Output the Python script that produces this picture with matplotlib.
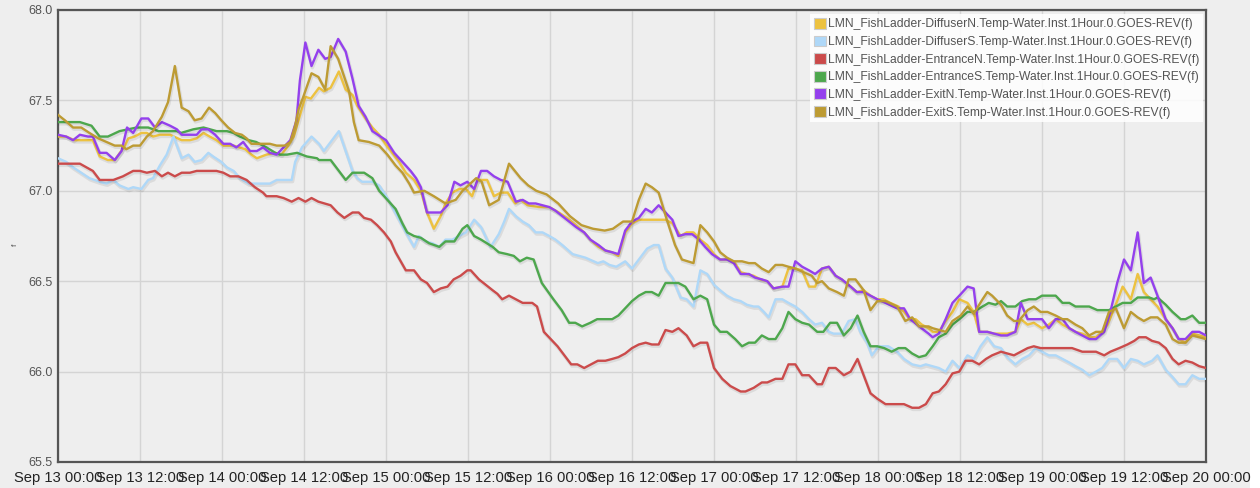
import matplotlib
matplotlib.use("Agg")
import matplotlib.pyplot as plt
import matplotlib.dates as mdates
import matplotlib.patheffects as pe
from matplotlib.patches import Patch, Rectangle
import pandas as pd

start = "2023-09-13 00:00"
end_hours = 168

labels = [
    "LMN_FishLadder-DiffuserN.Temp-Water.Inst.1Hour.0.GOES-REV(f)",
    "LMN_FishLadder-DiffuserS.Temp-Water.Inst.1Hour.0.GOES-REV(f)",
    "LMN_FishLadder-EntranceN.Temp-Water.Inst.1Hour.0.GOES-REV(f)",
    "LMN_FishLadder-EntranceS.Temp-Water.Inst.1Hour.0.GOES-REV(f)",
    "LMN_FishLadder-ExitN.Temp-Water.Inst.1Hour.0.GOES-REV(f)",
    "LMN_FishLadder-ExitS.Temp-Water.Inst.1Hour.0.GOES-REV(f)",
]
colors = ["#edc240", "#afd8f8", "#cb4b4b", "#4da74d", "#9440ed", "#bd9b33"]

# hours since Sep 13 00:00 and temperatures (f)
diffN_h = [0, 1.2, 2.4, 4.2, 5.1, 6.1, 7.3, 8.3, 9.8, 10.3, 11.2, 12.2, 13, 13.9, 14.9, 16.4, 18.1, 19.3, 20.3, 21.3,
           22.2, 23.2, 24.2, 25.7, 27.4, 28.3, 29.1, 30.5, 31.8, 32.7, 33.7, 34.5, 35.2, 36.2, 37, 38.2, 38.9, 39.9, 41.1, 42.1,
           43.1, 43.8, 45, 46, 47, 47.9, 48.9, 49.9, 50.9, 52.1, 53.1, 54, 55, 56, 56.7, 57.7, 58.7, 59.7, 60.6, 61.4,
           62.8, 63.8, 64.8, 65.8, 66.9, 67.7, 68.7, 70.4, 71.9, 73.3, 74.5, 75.8, 77, 77.9, 79.1, 80.1, 81.1, 82, 83, 84,
           85, 88.9, 89.9, 91.1, 92, 93, 94, 95, 96, 96.9, 97.9, 98.9, 99.9, 100.8, 101.8, 102.8, 103.8, 104.7, 106, 106.9,
           107.9, 108.9, 109.9, 110.8, 111.8, 112.8, 113.8, 114.7, 116, 116.9, 117.9, 118.9, 119.9, 120.8, 121.8, 123, 123.8, 124.7, 125.5, 126.4,
           127.4, 128, 128.9, 129.9, 130.9, 131.9, 133.1, 134, 134.8, 136, 137, 138.9, 140.1, 140.9, 141.9, 142.8, 144, 145, 146, 147,
           148, 148.9, 149.9, 150.9, 151.9, 152.8, 153.6, 154.8, 155.8, 157, 158, 158.9, 159.9, 160.9, 162.1, 163.1, 164, 165, 166, 167, 168]
diffN_v = [67.30, 67.30, 67.28, 67.28, 67.28, 67.19, 67.17, 67.17, 67.25, 67.29, 67.30, 67.32, 67.32, 67.30, 67.31, 67.31, 67.28, 67.28, 67.29, 67.32,
           67.30, 67.28, 67.25, 67.25, 67.23, 67.20, 67.18, 67.20, 67.21, 67.20, 67.25, 67.30, 67.39, 67.52, 67.51, 67.57, 67.55, 67.57, 67.66, 67.56,
           67.53, 67.47, 67.40, 67.35, 67.31, 67.26, 67.21, 67.16, 67.10, 67.06, 67.00, 66.88, 66.79, 66.86, 66.93, 66.99, 67.01, 67.01, 66.97, 67.06,
           67.06, 66.97, 66.99, 66.99, 66.93, 66.95, 66.92, 66.91, 66.91, 66.88, 66.85, 66.81, 66.77, 66.73, 66.69, 66.67, 66.66, 66.64, 66.77, 66.82,
           66.84, 66.84, 66.82, 66.75, 66.77, 66.77, 66.73, 66.70, 66.65, 66.62, 66.62, 66.61, 66.55, 66.54, 66.53, 66.51, 66.50, 66.46, 66.47, 66.57,
           66.57, 66.56, 66.47, 66.47, 66.57, 66.58, 66.53, 66.51, 66.47, 66.44, 66.45, 66.42, 66.40, 66.40, 66.38, 66.36, 66.33, 66.29, 66.29, 66.26,
           66.24, 66.22, 66.22, 66.28, 66.33, 66.40, 66.38, 66.33, 66.22, 66.22, 66.21, 66.21, 66.22, 66.29, 66.26, 66.27, 66.24, 66.26, 66.29, 66.26,
           66.24, 66.22, 66.21, 66.19, 66.19, 66.22, 66.26, 66.37, 66.47, 66.40, 66.54, 66.44, 66.40, 66.36, 66.29, 66.24, 66.18, 66.16, 66.21, 66.20, 66.19]

diffS_h = [0, 1.2, 2.2, 3.4, 4.6, 6.1, 7.1, 8.1, 9, 10.3, 11, 12.2, 13.2, 13.9, 14.9, 15.9, 16.9, 18.1, 19.1, 20,
           21, 22, 22.7, 23.9, 24.7, 25.7, 26.6, 27.9, 31, 32, 34.2, 34.7, 35.7, 37.1, 38.2, 38.9, 40.1, 41.1, 42.1, 43.1,
           43.8, 44.5, 46, 47, 48.2, 49.2, 50.9, 52.1, 52.8, 53.8, 54.8, 55.8, 56.7, 57.7, 58.7, 59.7, 60.9, 61.9, 63.3, 64.5,
           65.3, 66, 67, 68, 68.9, 69.9, 70.9, 71.9, 72.8, 73.8, 75.3, 77.2, 79, 79.8, 80.7, 81.7, 83, 84, 85.2, 86.2,
           87.2, 87.9, 88.9, 89.9, 91.1, 92, 93, 94, 95, 96, 96.9, 97.9, 98.9, 99.9, 100.8, 101.8, 102.5, 103.3, 104, 105,
           106, 106.9, 107.9, 108.9, 109.9, 110.8, 111.8, 112.8, 113.5, 114.7, 115.7, 116.7, 117.4, 118.4, 119.1, 120.1, 121.5, 122.8, 123.8, 125,
           126.2, 127, 128.9, 129.9, 130.9, 131.9, 133.1, 134, 135, 136, 137, 138, 138.9, 140.1, 141.1, 142.1, 143.1, 144, 145, 146,
           147, 148, 148.9, 149.9, 150.9, 151.9, 152.8, 153.8, 155, 156, 157, 158, 158.9, 160.1, 160.9, 162.1, 163.1, 164, 165, 166, 167, 168]
diffS_v = [67.18, 67.16, 67.13, 67.10, 67.07, 67.05, 67.04, 67.06, 67.03, 67.01, 67.02, 67.01, 67.06, 67.07, 67.14, 67.20, 67.30, 67.18, 67.20, 67.16,
           67.17, 67.21, 67.19, 67.16, 67.13, 67.11, 67.07, 67.04, 67.04, 67.06, 67.06, 67.16, 67.24, 67.30, 67.26, 67.22, 67.28, 67.33, 67.22, 67.11,
           67.07, 67.05, 67.05, 67.03, 66.96, 66.89, 66.77, 66.69, 66.75, 66.72, 66.71, 66.69, 66.73, 66.73, 66.75, 66.77, 66.84, 66.80, 66.69, 66.76,
           66.83, 66.90, 66.86, 66.83, 66.81, 66.77, 66.77, 66.75, 66.73, 66.70, 66.65, 66.63, 66.60, 66.61, 66.59, 66.58, 66.61, 66.57, 66.63, 66.68,
           66.70, 66.70, 66.57, 66.52, 66.41, 66.40, 66.36, 66.56, 66.54, 66.48, 66.45, 66.42, 66.40, 66.39, 66.37, 66.36, 66.36, 66.33, 66.30, 66.40,
           66.40, 66.38, 66.36, 66.33, 66.29, 66.26, 66.27, 66.22, 66.21, 66.21, 66.28, 66.29, 66.22, 66.16, 66.09, 66.14, 66.14, 66.11, 66.07, 66.04,
           66.03, 66.04, 66.02, 66.00, 66.06, 66.02, 66.09, 66.07, 66.14, 66.19, 66.14, 66.13, 66.08, 66.04, 66.07, 66.09, 66.13, 66.11, 66.09, 66.09,
           66.07, 66.05, 66.03, 66.01, 65.98, 66.00, 66.02, 66.07, 66.07, 66.02, 66.07, 66.06, 66.04, 66.06, 66.09, 66.01, 65.97, 65.93, 65.93, 65.98, 65.96, 65.96]

entN_h = [0, 3.2, 5.1, 6.1, 8.1, 9.5, 11, 12, 13, 14.2, 15.2, 16.1, 17.1, 18.1, 19.3, 20.3, 23.2, 24.2, 25.2, 26.4,
          27.6, 28.8, 30, 30.5, 32, 33, 34.2, 35.2, 36.2, 37.1, 38.1, 39.9, 40.9, 41.9, 43.1, 44, 44.8, 45.8, 46.7, 47.7,
          48.7, 49.4, 50.9, 52.1, 53.1, 54, 55, 56, 57, 57.9, 58.9, 59.9, 60.4, 61.6, 62.6, 63.6, 64.3, 65, 66, 67,
          68, 69.4, 70.1, 71.1, 72.1, 73.1, 74.1, 75.1, 76, 77, 78, 79, 80.1, 81.1, 82, 83, 84, 85, 86, 86.9,
          87.9, 88.9, 89.9, 90.8, 92, 93, 94, 95, 96, 97.2, 98.4, 99.9, 100.6, 101.8, 103, 103.8, 105, 106, 106.9, 107.9,
          108.9, 109.9, 111.1, 111.8, 112.8, 113.8, 115, 116, 117, 117.9, 118.9, 119.9, 121.1, 122, 123.8, 125, 126, 127, 128, 128.9,
          129.9, 130.9, 131.9, 132.8, 133.8, 134.8, 135.8, 136.7, 138, 139.9, 140.9, 141.9, 142.8, 143.8, 148.4, 149.9, 151.9, 153.1, 154, 155.3,
          156.5, 157.5, 158.2, 159.2, 160.1, 161.1, 162.1, 163.1, 164, 165, 166, 167, 168]
entN_v = [67.15, 67.15, 67.11, 67.06, 67.06, 67.08, 67.11, 67.11, 67.10, 67.11, 67.08, 67.10, 67.08, 67.10, 67.10, 67.11, 67.11, 67.10, 67.08, 67.08,
          67.06, 67.02, 66.99, 66.97, 66.97, 66.96, 66.94, 66.96, 66.94, 66.96, 66.94, 66.92, 66.88, 66.85, 66.88, 66.88, 66.85, 66.84, 66.81, 66.77,
          66.72, 66.66, 66.56, 66.56, 66.51, 66.49, 66.44, 66.46, 66.47, 66.51, 66.53, 66.56, 66.56, 66.51, 66.48, 66.45, 66.43, 66.40, 66.42, 66.40,
          66.38, 66.38, 66.36, 66.22, 66.18, 66.14, 66.09, 66.04, 66.04, 66.02, 66.04, 66.06, 66.06, 66.07, 66.08, 66.10, 66.13, 66.15, 66.16, 66.15,
          66.15, 66.23, 66.22, 66.24, 66.20, 66.14, 66.16, 66.16, 66.02, 65.96, 65.92, 65.89, 65.89, 65.91, 65.94, 65.94, 65.96, 65.96, 66.04, 66.04,
          65.98, 65.98, 65.93, 65.93, 66.02, 66.02, 65.98, 66.00, 66.07, 65.98, 65.88, 65.85, 65.82, 65.82, 65.82, 65.80, 65.80, 65.82, 65.88, 65.89,
          65.93, 65.99, 66.00, 66.06, 66.06, 66.04, 66.07, 66.09, 66.11, 66.09, 66.11, 66.13, 66.14, 66.13, 66.13, 66.11, 66.11, 66.09, 66.11, 66.13,
          66.15, 66.17, 66.19, 66.19, 66.17, 66.16, 66.13, 66.07, 66.04, 66.06, 66.05, 66.03, 66.02]

entS_h = [0, 3.2, 4.9, 6.1, 7.3, 9, 11.5, 13.2, 14.7, 17.4, 18, 19.8, 21.3, 23.2, 24.7, 25.7, 26.6, 27.9, 29, 30.5,
          31.8, 32.5, 33.5, 35, 36.4, 37.9, 38.2, 39.9, 40.9, 42.1, 43.1, 44.8, 46, 47, 48.2, 49.4, 50.4, 51.1, 52.1, 53.1,
          54.3, 55.8, 56.7, 58, 59.2, 59.9, 60.9, 61.9, 63.6, 64.5, 65.7, 66.7, 67.6, 68.6, 69.6, 70.8, 72.5, 73.7, 74.8, 75.7,
          76.7, 77.9, 78.9, 81.1, 82, 83, 84, 85, 86, 86.9, 87.9, 88.9, 90.8, 91.8, 93, 94, 95, 96, 96.9, 97.9,
          99.1, 100.1, 101.1, 102, 103, 104, 105, 106, 106.9, 107.9, 108.9, 109.9, 111.1, 112, 113, 114, 115, 116, 117, 117.9,
          118.9, 119.9, 120.9, 122, 123, 124, 125, 126, 127, 128, 128.9, 129.9, 130.9, 131.9, 133.1, 134, 135.3, 136.2, 137.2, 138,
          138.9, 140.1, 141.1, 142.1, 143.1, 144, 146, 147, 148, 148.9, 150.9, 152.1, 153.8, 154.8, 155.8, 157, 158, 159.7, 160.4, 160.9,
          162.1, 163.1, 164.3, 165, 166, 167, 168]
entS_v = [67.38, 67.38, 67.36, 67.30, 67.30, 67.33, 67.35, 67.35, 67.33, 67.33, 67.32, 67.34, 67.35, 67.33, 67.33, 67.32, 67.30, 67.28, 67.27, 67.24,
          67.21, 67.20, 67.20, 67.21, 67.19, 67.18, 67.17, 67.17, 67.12, 67.06, 67.10, 67.10, 67.07, 67.00, 66.95, 66.90, 66.82, 66.77, 66.75, 66.74,
          66.71, 66.69, 66.72, 66.72, 66.79, 66.81, 66.75, 66.73, 66.69, 66.66, 66.65, 66.64, 66.61, 66.63, 66.62, 66.49, 66.40, 66.34, 66.27, 66.27,
          66.25, 66.27, 66.29, 66.29, 66.31, 66.35, 66.39, 66.42, 66.44, 66.44, 66.42, 66.49, 66.49, 66.47, 66.40, 66.42, 66.40, 66.26, 66.22, 66.22,
          66.18, 66.14, 66.16, 66.16, 66.20, 66.18, 66.18, 66.24, 66.33, 66.29, 66.27, 66.26, 66.22, 66.22, 66.27, 66.27, 66.20, 66.24, 66.31, 66.22,
          66.14, 66.14, 66.13, 66.11, 66.13, 66.13, 66.10, 66.08, 66.09, 66.14, 66.19, 66.21, 66.26, 66.29, 66.33, 66.33, 66.36, 66.38, 66.37, 66.39,
          66.36, 66.36, 66.39, 66.40, 66.40, 66.42, 66.42, 66.38, 66.38, 66.36, 66.36, 66.34, 66.34, 66.36, 66.38, 66.38, 66.41, 66.41, 66.40, 66.41,
          66.37, 66.33, 66.29, 66.29, 66.31, 66.27, 66.27]

exitN_h = [0, 1.2, 2.2, 3.2, 4.4, 5.1, 6.1, 7.1, 8.3, 9.3, 10.1, 11, 12.2, 13.2, 14.2, 15.2, 16.4, 17.4, 18.1, 20.3,
           21, 22, 23, 24.2, 25.2, 26.1, 27.1, 28.1, 29.1, 30, 31, 32, 33, 34, 34.9, 35.4, 36.2, 37.1, 38.1, 39.1,
           39.9, 41, 42.1, 43.1, 44, 45, 46, 47.2, 48, 49.2, 50.4, 51.6, 52.4, 53.1, 54, 56, 57, 58, 58.9, 59.9,
           60.9, 61.9, 62.8, 63.8, 64.8, 65.8, 67, 68, 68.9, 69.9, 71.9, 72.8, 73.8, 74.8, 75.8, 77, 77.9, 79.1, 80.1, 81.1,
           82, 83, 84, 85, 86, 86.9, 87.9, 88.9, 89.9, 90.8, 91.8, 92.8, 93.8, 94.7, 95.7, 96.9, 97.9, 98.9, 99.9, 101.1,
           102, 103, 103.8, 104.7, 106, 106.9, 107.9, 108.9, 109.9, 110.8, 111.8, 112.8, 113.8, 114.7, 116, 116.9, 117.9, 118.9, 119.9, 121.1,
           122.8, 123.8, 124.7, 125.7, 126.7, 127.4, 128, 128.9, 129.9, 130.9, 131.9, 133.1, 134, 134.8, 136, 138, 138.9, 140.1, 140.9, 141.9,
           142.8, 144, 145, 146, 147, 148, 148.9, 149.9, 150.9, 151.9, 153.1, 154, 155, 156, 157, 158, 158.9, 159.9, 160.9, 162.1,
           163.1, 164, 165, 166, 167, 168]
exitN_v = [67.31, 67.30, 67.28, 67.31, 67.30, 67.30, 67.21, 67.21, 67.17, 67.22, 67.35, 67.32, 67.40, 67.40, 67.35, 67.38, 67.36, 67.34, 67.31, 67.31,
           67.34, 67.34, 67.31, 67.26, 67.26, 67.24, 67.27, 67.22, 67.22, 67.24, 67.21, 67.20, 67.24, 67.28, 67.39, 67.61, 67.82, 67.69, 67.78, 67.73,
           67.74, 67.84, 67.77, 67.62, 67.47, 67.41, 67.33, 67.30, 67.28, 67.21, 67.16, 67.11, 67.07, 67.02, 66.88, 66.88, 66.92, 67.05, 67.03, 67.05,
           67.01, 67.11, 67.11, 67.08, 67.06, 67.05, 66.94, 66.95, 66.93, 66.93, 66.91, 66.89, 66.86, 66.83, 66.80, 66.77, 66.73, 66.70, 66.67, 66.66,
           66.65, 66.78, 66.83, 66.85, 66.90, 66.88, 66.92, 66.88, 66.84, 66.75, 66.76, 66.76, 66.73, 66.69, 66.65, 66.62, 66.62, 66.60, 66.54, 66.54,
           66.52, 66.51, 66.50, 66.46, 66.47, 66.47, 66.61, 66.58, 66.56, 66.54, 66.57, 66.58, 66.53, 66.51, 66.47, 66.44, 66.44, 66.42, 66.40, 66.38,
           66.35, 66.35, 66.29, 66.26, 66.23, 66.21, 66.19, 66.21, 66.29, 66.38, 66.42, 66.47, 66.46, 66.22, 66.22, 66.20, 66.20, 66.22, 66.38, 66.29,
           66.29, 66.29, 66.24, 66.29, 66.29, 66.24, 66.22, 66.20, 66.18, 66.18, 66.22, 66.33, 66.49, 66.62, 66.56, 66.77, 66.49, 66.52, 66.42, 66.29,
           66.24, 66.18, 66.18, 66.22, 66.22, 66.20]

exitS_h = [0, 1, 2.2, 3.4, 4.6, 5.9, 7.1, 8.3, 9.3, 10, 11, 12, 13, 13.9, 15.2, 16.1, 17.1, 18.1, 19.1, 20,
           21, 22.1, 23, 23.9, 24.9, 25.9, 26.9, 27.6, 28.3, 31, 32, 33.2, 34, 34.7, 35.2, 35.9, 37.1, 38.1, 39.1, 39.9,
           41, 42.6, 43.3, 44, 45.5, 47, 48.2, 49.4, 50.4, 51.4, 52.1, 53.6, 55, 56.7, 58.2, 59.2, 61.2, 62, 63.1, 64.5,
           66, 67.7, 68.8, 70, 71.5, 73.2, 74.9, 76.6, 78.3, 80, 81.2, 82.7, 84, 85, 86, 86.9, 87.9, 89.1, 90.3, 91.3,
           93, 94, 95, 96, 96.9, 97.9, 98.9, 100.1, 101.1, 102, 103, 104, 105, 106, 106.9, 107.9, 109.1, 110.3, 111.1, 111.8,
           112.8, 114, 115, 115.7, 116.7, 117.9, 118.9, 119.9, 121.1, 122.8, 124, 125, 126, 127.4, 128, 129.9, 130.9, 132.1, 133.1, 134,
           135.3, 136, 136.7, 138, 138.9, 139.9, 140.6, 141.9, 142.8, 143.8, 144.8, 146, 147, 147.7, 148.9, 149.9, 150.9, 151.9, 152.8, 153.8,
           154.8, 156, 157, 158, 158.9, 159.9, 160.9, 162.1, 163.1, 164, 165, 166, 167, 168]
exitS_v = [67.42, 67.39, 67.35, 67.35, 67.32, 67.29, 67.27, 67.25, 67.25, 67.23, 67.25, 67.25, 67.30, 67.33, 67.41, 67.49, 67.69, 67.46, 67.44, 67.39,
           67.40, 67.46, 67.43, 67.39, 67.35, 67.32, 67.31, 67.29, 67.26, 67.26, 67.25, 67.25, 67.27, 67.36, 67.45, 67.52, 67.65, 67.63, 67.56, 67.80,
           67.73, 67.55, 67.38, 67.28, 67.27, 67.25, 67.20, 67.14, 67.10, 67.04, 66.99, 67.00, 66.97, 66.93, 66.95, 67.00, 67.07, 67.05, 66.92, 66.95,
           67.15, 67.07, 67.03, 67.00, 66.98, 66.93, 66.86, 66.81, 66.79, 66.78, 66.79, 66.83, 66.83, 66.95, 67.04, 67.02, 66.99, 66.84, 66.70, 66.62,
           66.60, 66.81, 66.77, 66.72, 66.66, 66.63, 66.61, 66.61, 66.60, 66.60, 66.57, 66.55, 66.59, 66.59, 66.58, 66.57, 66.55, 66.53, 66.49, 66.50,
           66.46, 66.44, 66.42, 66.51, 66.51, 66.45, 66.34, 66.39, 66.39, 66.36, 66.28, 66.30, 66.25, 66.25, 66.24, 66.22, 66.28, 66.31, 66.36, 66.32,
           66.40, 66.44, 66.42, 66.37, 66.31, 66.28, 66.28, 66.34, 66.36, 66.33, 66.33, 66.31, 66.29, 66.29, 66.26, 66.24, 66.20, 66.22, 66.22, 66.33,
           66.35, 66.24, 66.33, 66.30, 66.28, 66.30, 66.30, 66.26, 66.18, 66.16, 66.16, 66.20, 66.19, 66.18]

series_h = [diffN_h, diffS_h, entN_h, entS_h, exitN_h, exitS_h]
series_v = [diffN_v, diffS_v, entN_v, entS_v, exitN_v, exitS_v]

bg = "#eeeeee"
fig = plt.figure(figsize=(12.6, 4.88), dpi=100, facecolor=bg)
fig.patches.append(Rectangle((1250 / 1260, 0), 10 / 1260, 1, transform=fig.transFigure,
                             facecolor="white", edgecolor="none", zorder=-1))
ax = fig.add_axes([58 / 1260, 26 / 488, 1148 / 1260, 452 / 488])
ax.set_facecolor(bg)

t0 = pd.Timestamp(start)
for h, v, c in zip(series_h, series_v, colors):
    x = t0 + pd.to_timedelta(h, unit="h")
    ax.plot(x, v, color=c, lw=1.7, solid_joinstyle="round", zorder=3,
            path_effects=[pe.SimpleLineShadow(offset=(0.6, -1.2), shadow_color="k", alpha=0.08, linewidth=2.5),
                          pe.Normal()])

ax.set_xlim(t0, t0 + pd.Timedelta(hours=end_hours))
ax.set_ylim(65.5, 68.0)
ax.set_yticks([65.5, 66.0, 66.5, 67.0, 67.5, 68.0])
ax.yaxis.set_major_formatter(matplotlib.ticker.FormatStrFormatter("%.1f"))
ax.xaxis.set_major_locator(mdates.HourLocator(byhour=[0, 12]))
ax.xaxis.set_major_formatter(mdates.DateFormatter("%b %d %H:%M"))
ax.grid(True, color="#d4d4d4", lw=1.0, zorder=0)
ax.tick_params(axis="y", length=0, pad=4)
ax.tick_params(axis="x", length=0, pad=6.5)
for lab in ax.get_yticklabels():
    lab.set_fontfamily("Liberation Sans")
    lab.set_fontsize(9)
    lab.set_color("#545454")
for lab in ax.get_xticklabels():
    lab.set_fontfamily("Liberation Sans")
    lab.set_fontsize(10.6)
    lab.set_color("#222222")
for s in ax.spines.values():
    s.set_color("#555555")
    s.set_linewidth(1.6)

fig.text(15 / 1260, 1 - 245 / 488, "f", rotation=90, fontsize=6, color="#545454",
         family="Liberation Sans", ha="center", va="center")

handles = [Patch(facecolor=c, edgecolor="#cccccc", lw=0.8) for c in colors]
leg = ax.legend(handles, labels, loc="upper right", bbox_to_anchor=(0.9974, 0.991),
                prop={"family": "Liberation Sans", "size": 8.7}, labelcolor="#545454",
                handlelength=1.0, handleheight=1.0, handletextpad=0.12, labelspacing=0.42,
                borderpad=0.32, borderaxespad=0.0, frameon=True, fancybox=False)
leg.get_frame().set_facecolor("white")
leg.get_frame().set_alpha(0.85)
leg.get_frame().set_edgecolor("none")
leg.set_zorder(5)

fig.savefig("out.png", dpi=100, facecolor=bg)
